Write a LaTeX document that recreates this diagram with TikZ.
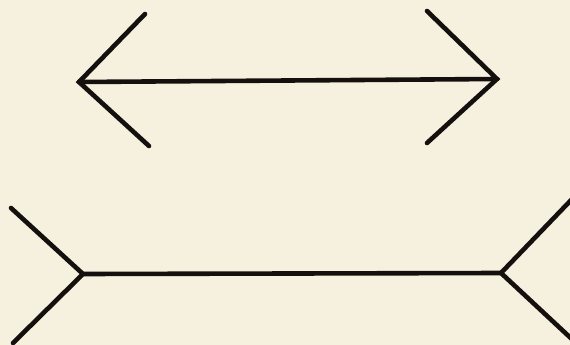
\documentclass[tikz,border=0pt]{standalone}
\definecolor{paper}{RGB}{246,240,222}
\definecolor{ink}{RGB}{20,16,14}
\begin{document}
\begin{tikzpicture}[x=1pt,y=-1pt,
  fig/.style={draw=ink,line width=4.6pt,line cap=round,line join=miter}]
\fill[paper] (0,0) rectangle (570,345);
\useasboundingbox (0,0) rectangle (570,345);
% top figure (arrowheads pointing outward)
\coordinate (tl) at (79,82);
\coordinate (tr) at (497,79);
\draw[fig] (tl) -- (tr);
\draw[fig] (145,14) -- (tl) -- (149,146);
\draw[fig] (427,11) -- (tr) -- (427,143);
% bottom figure (fins pointing outward)
\coordinate (bl) at (83,274);
\coordinate (br) at (501,273);
\draw[fig] (bl) -- (br);
\draw[fig] (11,208) -- (bl) -- (13,343);
\draw[fig] (575,196) -- (br) -- (575,342);
\end{tikzpicture}
\end{document}
